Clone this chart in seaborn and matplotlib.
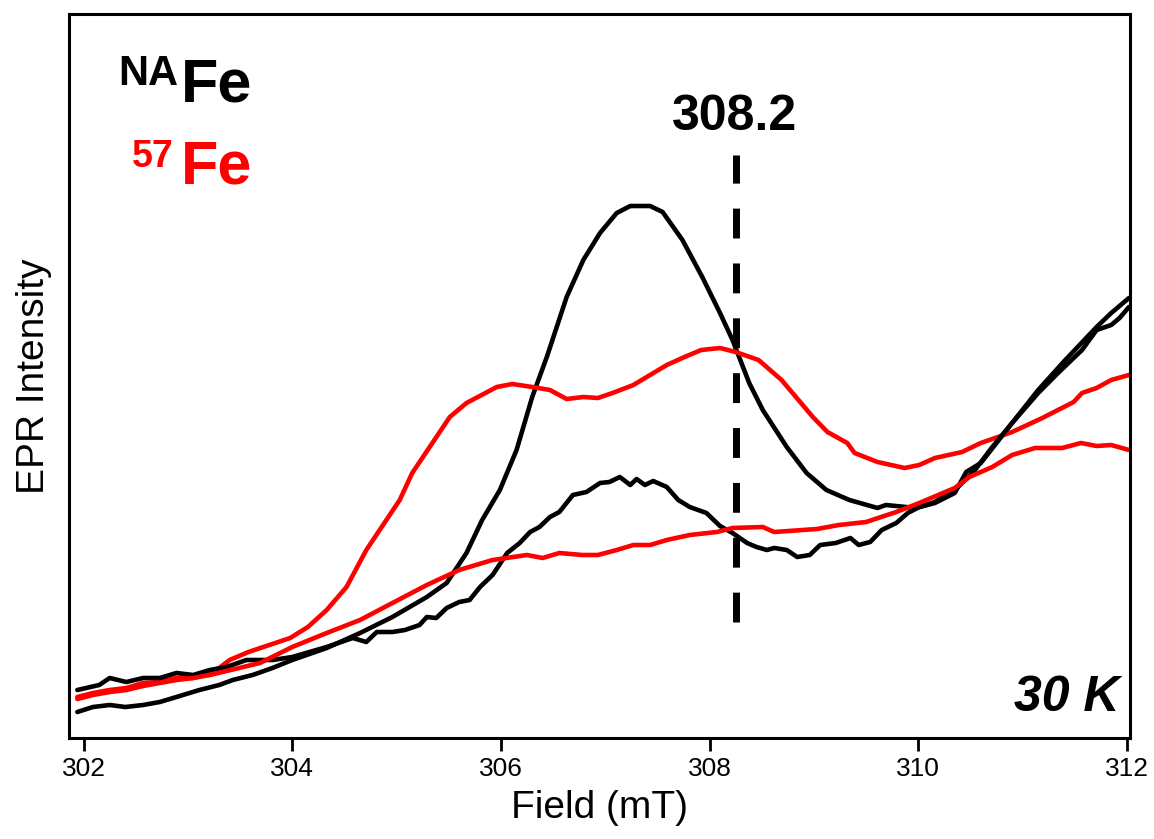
import numpy as np
import pandas as pd
import matplotlib
matplotlib.use("Agg")
import matplotlib.pyplot as plt
import seaborn as sns

# ---------------- data ----------------
field_k1 = [301.94, 302.09, 302.25, 302.40, 302.57, 302.73, 302.89, 303.11, 303.30, 303.43,
            303.62, 303.81, 304.00, 304.33, 304.65, 304.96, 305.29, 305.48, 305.67, 305.82,
            305.99, 306.15, 306.30, 306.44, 306.63, 306.79, 306.95, 307.11, 307.24, 307.43,
            307.55, 307.74, 307.93, 308.10, 308.22, 308.38, 308.51, 308.74, 308.93, 309.12,
            309.34, 309.61, 309.69, 309.98, 310.16, 310.35, 310.46, 310.60, 310.90, 311.15,
            311.41, 311.71, 311.85, 312.02]
int_k1 = [26, 31, 33, 31, 33, 36, 41, 48, 53, 58,
          63, 70, 78, 90, 105, 121, 141, 155, 185, 218,
          248, 288, 341, 381, 441, 478, 505, 525, 532, 532,
          526, 498, 461, 425, 398, 355, 328, 291, 265, 248,
          238, 230, 233, 230, 235, 245, 266, 275, 315, 348,
          378, 411, 425, 440]

field_k2 = [301.94, 302.15, 302.25, 302.41, 302.57, 302.73, 302.89, 303.05, 303.21, 303.37,
            303.56, 303.81, 304.00, 304.33, 304.58, 304.71, 304.81, 304.96, 305.08, 305.22,
            305.29, 305.38, 305.48, 305.60, 305.70, 305.80, 305.92, 306.06, 306.18, 306.28,
            306.37, 306.47, 306.56, 306.69, 306.82, 306.95, 307.04, 307.14, 307.24, 307.30,
            307.38, 307.46, 307.59, 307.70, 307.81, 307.97, 308.10, 308.22, 308.36, 308.45,
            308.55, 308.62, 308.74, 308.84, 308.96, 309.06, 309.21, 309.35, 309.43, 309.54,
            309.65, 309.79, 309.90, 310.01, 310.16, 310.38, 310.53, 310.71, 310.90, 311.15,
            311.34, 311.57, 311.71, 311.85, 311.93, 312.02]
int_k2 = [48, 53, 60, 56, 60, 60, 65, 63, 68, 71,
          78, 78, 81, 91, 100, 96, 106, 106, 108, 113,
          121, 120, 130, 136, 138, 151, 163, 185, 195, 206,
          211, 221, 226, 243, 246, 255, 256, 261, 253, 259,
          253, 257, 251, 238, 231, 225, 212, 205, 195, 191,
          188, 190, 188, 181, 183, 193, 195, 200, 193, 196,
          208, 215, 225, 231, 236, 251, 266, 291, 315, 345,
          365, 388, 408, 413, 420, 431]

field_r1 = [301.94, 302.09, 302.25, 302.41, 302.57, 302.73, 302.89, 303.05, 303.21, 303.30,
            303.40, 303.58, 303.98, 304.15, 304.33, 304.52, 304.71, 304.87, 305.03, 305.15,
            305.33, 305.51, 305.67, 305.96, 306.11, 306.30, 306.47, 306.63, 306.79, 306.93,
            307.07, 307.27, 307.43, 307.59, 307.76, 307.92, 308.10, 308.25, 308.47, 308.69,
            308.99, 309.13, 309.32, 309.39, 309.61, 309.87, 310.01, 310.16, 310.42, 310.60,
            310.90, 311.19, 311.49, 311.57, 311.71, 311.85, 312.02]
int_r1 = [41, 45, 48, 50, 55, 56, 60, 60, 65, 70,
          78, 86, 100, 111, 128, 151, 188, 213, 238, 265,
          293, 321, 335, 351, 354, 351, 348, 339, 341, 340,
          345, 353, 363, 373, 381, 388, 390, 386, 378, 358,
          321, 306, 295, 285, 276, 270, 273, 280, 286, 295,
          306, 320, 336, 345, 350, 358, 363]

field_r2 = [301.94, 302.09, 302.25, 302.41, 302.57, 302.73, 302.89, 303.05, 303.21, 303.49,
            303.69, 304.00, 304.33, 304.65, 304.96, 305.29, 305.60, 305.92, 306.25, 306.40,
            306.56, 306.78, 306.93, 307.11, 307.27, 307.43, 307.59, 307.81, 308.07, 308.22,
            308.51, 308.62, 309.03, 309.24, 309.50, 309.79, 310.01, 310.35, 310.49, 310.71,
            310.90, 311.12, 311.38, 311.56, 311.71, 311.85, 312.02]
int_r2 = [39, 43, 46, 48, 52, 55, 58, 60, 63, 70,
          75, 91, 105, 118, 135, 153, 168, 178, 183, 180,
          185, 183, 183, 188, 193, 193, 198, 203, 206, 210,
          211, 206, 209, 213, 216, 226, 235, 250, 261, 271,
          283, 290, 290, 295, 292, 293, 288]

curve_names = ["NA-Fe a", "57-Fe a", "NA-Fe b", "57-Fe b"]
curve_colors = ["#000000", "#ff0000", "#000000", "#ff0000"]
x_ticks = [302, 304, 306, 308, 310, 312]
marker_field = 308.25
marker_label = "308.2"
temp_label = "30 K"

# ---------------- build long table ----------------
frames = []
for name, fx_, iy in zip(curve_names,
                         [field_k1, field_r1, field_k2, field_r2],
                         [int_k1, int_r1, int_k2, int_r2]):
    frames.append(pd.DataFrame({"field": fx_, "intensity": iy, "curve": name}))
df = pd.concat(frames, ignore_index=True)

sns.set_theme(style="white")
plt.rcParams["font.family"] = ["Liberation Sans", "DejaVu Sans"]
plt.rcParams["text.color"] = "black"
plt.rcParams["axes.labelcolor"] = "black"
plt.rcParams["xtick.color"] = "black"
plt.rcParams["ytick.color"] = "black"

W, H = 1154, 839
fig = plt.figure(figsize=(W / 100, H / 100), dpi=100)
ax = fig.add_axes([69 / W, 1 - 738 / H, (1130 - 69) / W, (738 - 14) / H])

sns.lineplot(data=df, x="field", y="intensity", hue="curve", hue_order=curve_names,
             palette=dict(zip(curve_names, curve_colors)), sort=False,
             estimator=None, linewidth=3.3, legend=False, ax=ax)

ax.plot([marker_field, marker_field], [116, 583], color="black", lw=5,
        linestyle=(0, (4.3, 3.6)))

ax.set_xlim(301.86, 312.03)
ax.set_ylim(0, 724)
ax.set_xticks(x_ticks)
ax.set_xticklabels([str(t) for t in x_ticks], fontsize=19, color="black")
ax.set_yticks([])
ax.tick_params(axis="x", direction="out", length=9, width=2, bottom=True, pad=5,
               colors="black")
for s in ax.spines.values():
    s.set_visible(True)
    s.set_color("black")
    s.set_linewidth(2.2)

ax.set_xlabel("Field (mT)", fontsize=28, labelpad=6, color="black")
ax.set_ylabel("EPR Intensity", fontsize=28, labelpad=12, color="black")

# annotations (figure pixel positions)
def fx(px):
    return px / W

def fy(py):
    return 1 - py / H

fig.text(fx(178), fy(85), "NA", fontsize=30, fontweight="bold", color="black",
         ha="right", va="baseline")
fig.text(fx(181), fy(101), "Fe", fontsize=44, fontweight="bold", color="black",
         ha="left", va="baseline")
fig.text(fx(174), fy(167), "57", fontsize=27, fontweight="bold", color="#ff0000",
         ha="right", va="baseline")
fig.text(fx(181), fy(184), "Fe", fontsize=44, fontweight="bold", color="#ff0000",
         ha="left", va="baseline")
fig.text(fx(735), fy(130), marker_label, fontsize=36, fontweight="bold", color="black",
         ha="center", va="baseline")
fig.text(fx(1119), fy(711), temp_label, fontsize=36, fontweight="bold", style="italic",
         color="black", ha="right", va="baseline")

fig.savefig("out.png", dpi=100)
